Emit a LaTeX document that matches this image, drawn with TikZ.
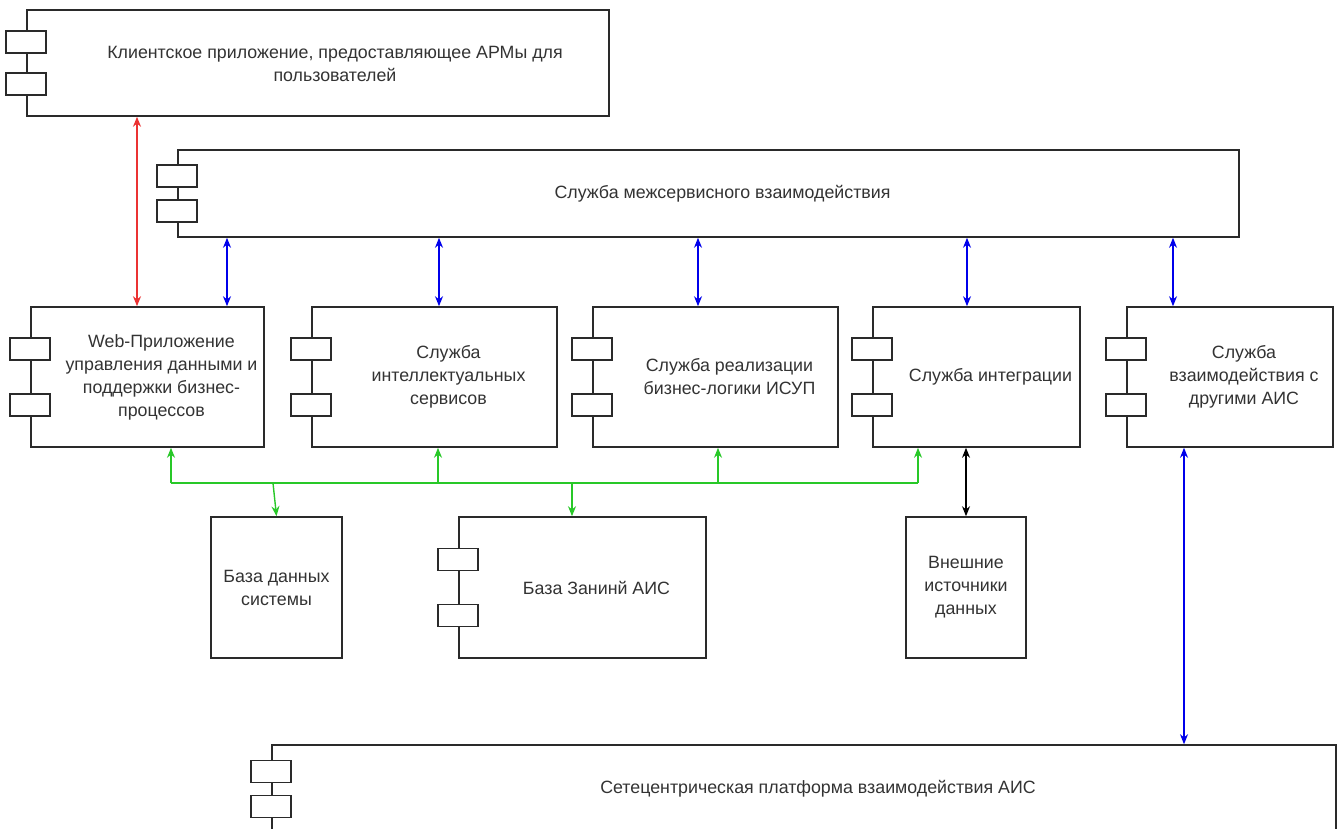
\documentclass[tikz,border=0pt]{standalone}
\usepackage{fontspec}
\setmainfont{Liberation Sans}
\usetikzlibrary{arrows.meta,calc}
\definecolor{ink}{HTML}{333333}
\definecolor{edge}{HTML}{2A2A2A}
\definecolor{lnblue}{RGB}{0,0,235}
\definecolor{lngreen}{RGB}{40,200,40}
\definecolor{lnred}{RGB}{235,50,50}
\tikzset{
  box/.style={draw=edge, line width=1.6pt, fill=white, inner sep=0pt,
    text=ink, align=center, font=\fontsize{17.8}{23}\selectfont},
  lbl/.style={inner sep=0pt, text=ink, align=center, font=\fontsize{17.8}{23}\selectfont},
  % text of a component sits centred in the part right of its tabs
  ctext/.style={lbl, xshift=14pt},
  tabbox/.style={draw=edge, line width=1.6pt, fill=white},
  both/.style={line width=1.4pt, {Stealth[length=10pt,width=8pt]}-{Stealth[length=10pt,width=8pt]}},
  one/.style={line width=1.4pt, -{Stealth[length=10pt,width=8pt]}},
}
% two jetty tabs on the left edge of a component box
\newcommand\comptabs[2]{%
  \draw[tabbox] ($(#1.west)+(-20,-#2-11)$) rectangle ++(40,22);
  \draw[tabbox] ($(#1.west)+(-20,#2-11)$) rectangle ++(40,22);}
\begin{document}
\begin{tikzpicture}[x=1pt,y=-1pt]
\clip (0,0) rectangle (1340,829);
\fill[white] (0,0) rectangle (1340,829);

% client application
\node[box, minimum width=582, minimum height=106] (top) at (318,63) {};
\comptabs{top}{21}
\node[ctext] (topText) at ($(top.center)+(3,1)$) {Клиентское приложение, предоставляющее АРМы для\\пользователей};

% inter-service bus
\node[box, minimum width=1061, minimum height=87] (svc) at (708.5,193.5) {};
\comptabs{svc}{17.5}
\node[ctext] (svcText) at (svc) {Служба межсервисного взаимодействия};

% service row
\node[box, minimum width=233, minimum height=140] (b1) at (147.5,377) {};
\comptabs{b1}{28}
\node[ctext] (b1Text) at (b1) {Web-Приложение\\управления данными и\\поддержки бизнес-\\процессов};
\node[box, minimum width=245, minimum height=140] (b2) at (434.5,377) {};
\comptabs{b2}{28}
\node[ctext] (b2Text) at (b2) {Служба\\интеллектуальных\\сервисов};
\node[box, minimum width=245, minimum height=140] (b3) at (715.5,377) {};
\comptabs{b3}{28}
\node[ctext] (b3Text) at (b3) {Служба реализации\\бизнес-логики ИСУП};
\node[box, minimum width=207, minimum height=140] (b4) at (976.5,377) {};
\comptabs{b4}{28}
\node[ctext] (b4Text) at (b4) {Служба интеграции};
\node[box, minimum width=206, minimum height=140] (b5) at (1230,377) {};
\comptabs{b5}{28}
\node[ctext] (b5Text) at (b5) {Служба\\взаимодействия с\\другими АИС};

% storage row
\node[box, minimum width=131, minimum height=141] (db) at (276.5,587.5)
  {База данных\\системы};
\node[box, minimum width=247, minimum height=141] (kb) at (582.5,587.5) {};
\comptabs{kb}{28}
\node[ctext] (kbText) at (kb) {База Занинй АИС};
\node[box, minimum width=120, minimum height=141] (ext) at (966,587.5)
  {Внешние\\источники\\данных};

% network-centric platform
\node[box, minimum width=1064, minimum height=88] (plat) at (804,789) {};
\comptabs{plat}{17.5}
\node[ctext] (platText) at (plat) {Сетецентрическая платформа взаимодействия АИС};

% connector positions
\coordinate (xr) at (137,0);
\coordinate (xb1) at (227,0);
\coordinate (xb2) at (439,0);
\coordinate (xb3) at (698,0);
\coordinate (xb4) at (967,0);
\coordinate (xb5) at (1173,0);
\coordinate (xlong) at (1184,0);
\coordinate (g1) at (171,483);
\coordinate (g2) at (438,483);
\coordinate (g3) at (718,483);
\coordinate (g4) at (918,483);
\coordinate (gdb) at (273,483);
\coordinate (gkb) at (572,483);

% client <-> web application
\draw[both, lnred] (xr |- top.south) -- (xr |- b1.north);

% bus <-> services
\foreach \c/\n in {xb1/b1, xb2/b2, xb3/b3, xb4/b4, xb5/b5}
  \draw[both, lnblue] (\c |- svc.south) -- (\c |- \n.north);

% data bus
\draw[lngreen, line width=1.4pt] (g1) -- (g4);
\foreach \c/\n in {g1/b1, g2/b2, g3/b3, g4/b4}
  \draw[one, lngreen] (\c) -- (\c |- \n.south);
\draw[one, lngreen] (gdb) -- (db.north);
\draw[one, lngreen] (gkb) -- (gkb |- kb.north);

% integration <-> external sources
\draw[both, black] (ext.north |- b4.south) -- (ext.north);

% other AIS <-> platform
\draw[both, lnblue] (xlong |- b5.south) -- (xlong |- plat.north);
\end{tikzpicture}
\end{document}
